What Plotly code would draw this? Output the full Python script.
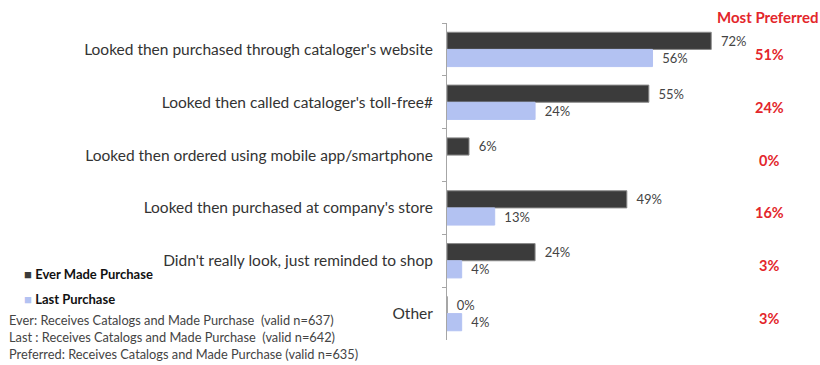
import plotly.graph_objects as go

# Survey: how catalog recipients went on to make purchases
categories = [
    "Looked then purchased through cataloger's website",
    "Looked then called cataloger's toll-free#",
    "Looked then ordered using mobile app/smartphone",
    "Looked then purchased at company's store",
    "Didn't really look, just reminded to shop",
    "Other",
]
ever_made_purchase = [72, 55, 6, 49, 24, 0]
last_purchase = [56, 24, None, 13, 4, 4]
most_preferred = [51, 24, 0, 16, 3, 3]

series_names = ["Ever Made Purchase", "Last Purchase"]

footnotes = [
    "Ever: Receives Catalogs and Made Purchase  (valid n=637)",
    "Last : Receives Catalogs and Made Purchase  (valid n=642)",
    "Preferred: Receives Catalogs and Made Purchase (valid n=635)",
]

W, H = 820, 365
FONT = "Lato"
DARK = "#3b3b3b"
LIGHT = "#b3c2f2"
RED = "#e3262b"
TEXT = "#333333"


def px(x):
    return x / W


def py(y):
    return 1 - y / H


fig = go.Figure()
for name, values, color, edge in [
    (series_names[0], ever_made_purchase, DARK, "#8a8a8a"),
    (series_names[1], last_purchase, LIGHT, LIGHT),
]:
    fig.add_trace(go.Bar(
        name=name, y=categories, x=values, orientation="h",
        marker=dict(color=color, line=dict(color=edge, width=1)),
        texttemplate="  %{x}%", textposition="outside", cliponaxis=False,
        textfont=dict(family=FONT, size=13, color="#444444"),
        showlegend=False,
    ))

annotations = [dict(
    text="<b>Most Preferred</b>", x=px(768), y=py(17), xref="paper", yref="paper",
    xanchor="center", yanchor="middle",
    showarrow=False, font=dict(family=FONT, size=15, color=RED),
)]
for cat, val in zip(categories, most_preferred):
    annotations.append(dict(
        text=f"<b>{val}%</b>", x=px(769), y=cat, xref="paper", yref="y",
        xanchor="center", yanchor="middle", yshift=-5,
        showarrow=False, font=dict(family=FONT, size=14.5, color=RED),
    ))

# Legend keys drawn as a coloured square followed by the bold series name
for i, (name, color) in enumerate(zip(series_names, [DARK, LIGHT])):
    annotations.append(dict(
        text=f"<span style='color:{color};font-size:13px'>■</span> <b>{name}</b>",
        x=px(22), y=py(274 + 25 * i), xref="paper", yref="paper",
        xanchor="left", yanchor="middle", showarrow=False,
        font=dict(family=FONT, size=13, color="#111111"),
    ))

for i, line in enumerate(footnotes):
    annotations.append(dict(
        text=line, x=px(7), y=py(320 + 17 * i), xref="paper", yref="paper",
        xanchor="left", yanchor="middle",
        showarrow=False, font=dict(family=FONT, size=12.8, color="#444444"),
    ))

fig.update_layout(
    width=W, height=H,
    margin=dict(l=0, r=0, t=0, b=0),
    paper_bgcolor="white", plot_bgcolor="white",
    barmode="group", bargap=0.35, bargroupgap=0,
    font=dict(family=FONT, color=TEXT),
    showlegend=False,
    xaxis=dict(
        domain=[px(447), px(814)], range=[0, 100],
        showgrid=False, zeroline=False, showticklabels=False, showline=False,
        fixedrange=True,
    ),
    yaxis=dict(
        domain=[py(340), py(23)], autorange="reversed",
        showgrid=False, showline=True, linecolor="#a6a6a6", linewidth=1,
        ticks="outside", ticklen=4, tickcolor="#a6a6a6", tickson="boundaries",
        ticklabelstandoff=10,
        tickfont=dict(family=FONT, size=15.5, color=TEXT),
    ),
    annotations=annotations,
)

fig.write_html("out.html")
